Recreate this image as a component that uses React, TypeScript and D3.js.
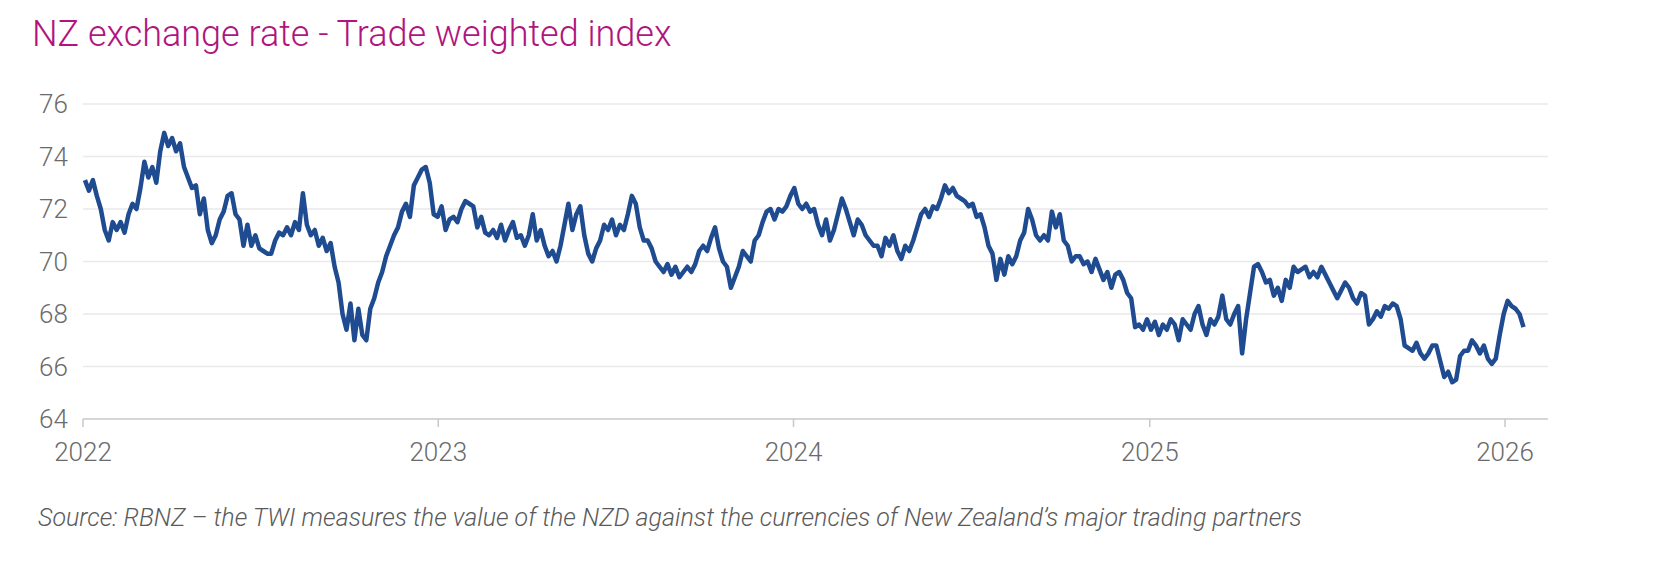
import React, {useEffect, useRef} from "react";
import * as d3 from "d3";

// TWI observations, roughly every 4 days, Jan 2022 -> Jan 2026
const twiValues: number[] = [
    73.1, 72.7, 73.1, 72.5, 72.0, 71.2, 70.8, 71.5, 71.2, 71.5, 71.1, 71.8, 72.2, 72.0, 72.8, 73.8, 73.2, 73.6, 73.0, 74.2,
    74.9, 74.4, 74.7, 74.2, 74.5, 73.6, 73.2, 72.8, 72.9, 71.8, 72.4, 71.2, 70.7, 71.0, 71.6, 71.9, 72.5, 72.6, 71.8, 71.6,
    70.6, 71.4, 70.6, 71.0, 70.5, 70.4, 70.3, 70.3, 70.8, 71.1, 71.0, 71.3, 71.0, 71.5, 71.2, 72.6, 71.4, 71.0, 71.2, 70.6,
    70.9, 70.4, 70.7, 69.8, 69.2, 68.0, 67.4, 68.4, 67.0, 68.2, 67.2, 67.0, 68.2, 68.6, 69.2, 69.6, 70.2, 70.6, 71.0, 71.3,
    71.9, 72.2, 71.7, 72.9, 73.2, 73.5, 73.6, 73.0, 71.8, 71.7, 72.1, 71.2,
    71.6, 71.7, 71.5, 72.0, 72.3, 72.2, 72.1, 71.3, 71.7, 71.1, 71.0, 71.2, 70.9, 71.4, 70.8, 71.2, 71.5, 70.9, 71.0, 70.6,
    71.0, 71.8, 70.8, 71.2, 70.6, 70.2, 70.4, 70.0, 70.6, 71.4, 72.2, 71.2, 71.8, 72.1, 71.0, 70.3, 70.0, 70.5, 70.8, 71.4,
    71.2, 71.6, 71.0, 71.4, 71.2, 71.8, 72.5, 72.2, 71.3, 70.8, 70.8, 70.5, 70.0, 69.8, 69.6, 69.9, 69.5, 69.8, 69.4, 69.6,
    69.8, 69.6, 69.9, 70.4, 70.6, 70.4, 70.9, 71.3, 70.5, 70.0, 69.8, 69.0, 69.4, 69.8, 70.4, 70.2, 70.0, 70.8, 71.0, 71.5,
    71.9, 72.0, 71.6, 72.0, 71.9, 72.1, 72.5, 72.8,
    72.2, 72.0, 72.2, 71.9, 72.0, 71.4, 71.0, 71.6, 70.8, 71.2, 71.8, 72.4, 72.0, 71.5, 71.0, 71.6, 71.4, 71.0, 70.8, 70.6,
    70.6, 70.2, 70.9, 70.6, 71.0, 70.4, 70.1, 70.6, 70.4, 70.8, 71.3, 71.8, 72.0, 71.7, 72.1, 72.0, 72.4, 72.9, 72.6, 72.8,
    72.5, 72.4, 72.3, 72.1, 72.2, 71.7, 71.8, 71.3, 70.6, 70.3, 69.3, 70.1, 69.5, 70.2, 69.9, 70.2, 70.8, 71.1, 72.0, 71.6,
    71.0, 70.8, 71.0, 70.8, 71.9, 71.3, 71.8, 70.8, 70.6, 70.0, 70.2, 70.2, 69.9, 70.0, 69.6, 70.1, 69.7, 69.3, 69.6, 69.0,
    69.5, 69.6, 69.3, 68.8, 68.6, 67.5, 67.6, 67.4, 67.8,
    67.4, 67.7, 67.2, 67.6, 67.4, 67.8, 67.6, 67.0, 67.8, 67.6, 67.4, 68.0, 68.3, 67.6, 67.2, 67.8, 67.6, 67.9, 68.7, 67.8,
    67.6, 68.0, 68.3, 66.5, 67.8, 68.8, 69.8, 69.9, 69.6, 69.2, 69.3, 68.7, 69.0, 68.5, 69.3, 69.0, 69.8, 69.6, 69.7, 69.8,
    69.4, 69.6, 69.4, 69.8, 69.5, 69.2, 68.9, 68.6, 68.9, 69.2, 69.0, 68.6, 68.4, 68.8, 68.7, 67.6, 67.8, 68.1, 67.9, 68.3,
    68.2, 68.4, 68.3, 67.8, 66.8, 66.7, 66.6, 66.9, 66.5, 66.3, 66.5, 66.8, 66.8, 66.2, 65.6, 65.8, 65.4, 65.5, 66.4, 66.6,
    66.6, 67.0, 66.8, 66.5, 66.8, 66.3, 66.1, 66.3, 67.2, 68.0, 68.5, 68.3, 68.2, 68.0, 67.5,
];
const firstDate = new Date(2022, 0, 3);
const lastDate = new Date(2026, 0, 20);
const yTicks = [64, 66, 68, 70, 72, 74, 76];
const yearTicks = [2022, 2023, 2024, 2025, 2026];

export default function App() {
    const svgRef = useRef<SVGSVGElement | null>(null);
    const width = 1662;
    const height = 576;
    const marginLeft = 83;
    const marginRight = 114;
    const marginTop = 104;
    const plotBottom = 419;

    useEffect(() => {
        const svg = d3.select(svgRef.current);
        svg.selectAll("*").remove();

        const step = (lastDate.getTime() - firstDate.getTime()) / (twiValues.length - 1);
        const data = twiValues.map((v, i) => ({date: new Date(firstDate.getTime() + i * step), value: v}));

        const x = d3.scaleTime()
            .domain([new Date(2022, 0, 1), new Date(2026, 0, 1)])
            .range([marginLeft, 1505]);
        const y = d3.scaleLinear().domain([64, 76]).range([plotBottom, marginTop]);

        svg.append("text")
            .attr("x", 32).attr("y", 46)
            .attr("fill", "#b0157e")
            .style("font-family", "Roboto, 'Open Sans', sans-serif")
            .style("font-weight", 300)
            .style("font-size", "36px")
            .text("NZ exchange rate - Trade weighted index");

        // gridlines
        svg.append("g").selectAll("line")
            .data(yTicks.filter((t) => t !== 64))
            .join("line")
            .attr("x1", marginLeft).attr("x2", width - marginRight)
            .attr("y1", (d) => y(d)).attr("y2", (d) => y(d))
            .attr("stroke", "#e9e9ec").attr("stroke-width", 1.5);

        svg.append("g").selectAll("text")
            .data(yTicks)
            .join("text")
            .attr("x", 39).attr("y", (d) => y(d) + 9)
            .attr("fill", "#6b6b6b")
            .style("font-family", "Roboto, sans-serif")
            .style("font-weight", 300)
            .style("font-size", "26px")
            .text((d) => d);

        // x axis
        svg.append("line")
            .attr("x1", marginLeft).attr("x2", width - marginRight)
            .attr("y1", plotBottom).attr("y2", plotBottom)
            .attr("stroke", "#c8c8c8").attr("stroke-width", 1.5);
        const yearG = svg.append("g").selectAll("g")
            .data(yearTicks)
            .join("g")
            .attr("transform", (d) => `translate(${x(new Date(d, 0, 1))},${plotBottom})`);
        yearG.append("line").attr("y2", 8).attr("stroke", "#c8c8c8").attr("stroke-width", 1.5);
        yearG.append("text")
            .attr("y", 42)
            .attr("text-anchor", "middle")
            .attr("fill", "#6b6b6b")
            .style("font-family", "Roboto, sans-serif")
            .style("font-weight", 300)
            .style("font-size", "26px")
            .text((d) => d);

        const line = d3.line<{date: Date; value: number}>()
            .x((d) => x(d.date))
            .y((d) => y(d.value))
            .curve(d3.curveLinear);
        svg.append("path")
            .datum(data)
            .attr("d", line)
            .attr("fill", "none")
            .attr("stroke", "#1f4b91")
            .attr("stroke-width", 4.5)
            .attr("stroke-linejoin", "round");

        svg.append("text")
            .attr("x", 38).attr("y", 526)
            .attr("fill", "#5a5a5a")
            .style("font-family", "Roboto, sans-serif")
            .style("font-weight", 300)
            .style("font-style", "italic")
            .style("font-size", "25px")
            .text("Source: RBNZ \u2013 the TWI measures the value of the NZD against the currencies of New Zealand\u2019s major trading partners");
    }, []);

    return (
        <svg
            ref={svgRef}
            width={width}
            height={height}
            style={{position: "absolute", left: 0, top: 0, background: "#fff"}}
        />
    );
}
